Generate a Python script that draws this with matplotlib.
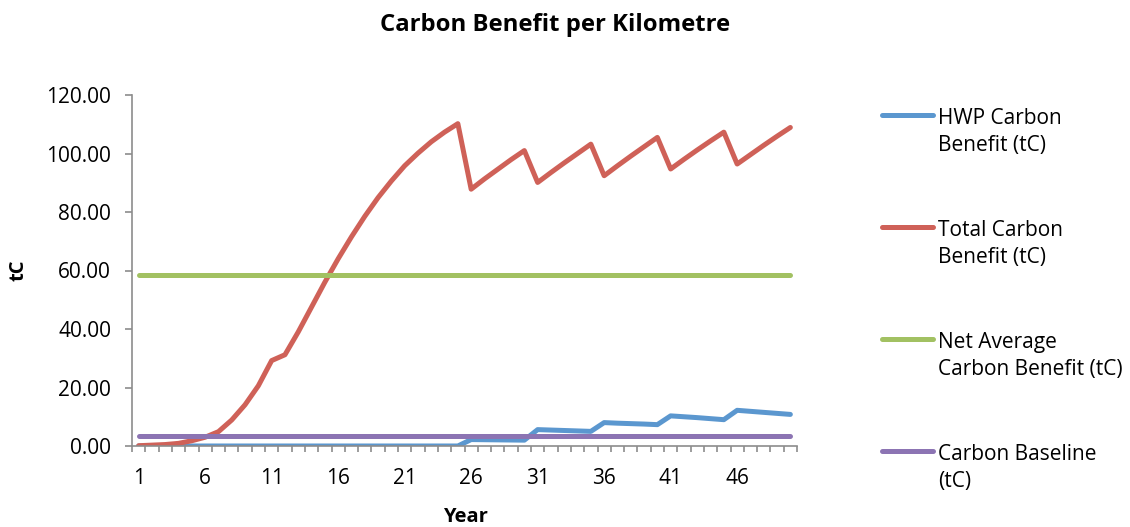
import matplotlib
matplotlib.use('Agg')
import matplotlib.pyplot as plt
from matplotlib.lines import Line2D
import numpy as np

plt.rcParams['font.family'] = ['Open Sans', 'DejaVu Sans']

# Data
years = list(range(1, 51))

hwp_benefit = [0.0] * 25 + [
    2.2, 2.15, 2.1, 2.05, 2.0,
    5.6, 5.45, 5.3, 5.15, 5.0,
    8.0, 7.8, 7.65, 7.5, 7.3,
    10.3, 10.0, 9.7, 9.35, 9.0,
    12.2, 11.85, 11.5, 11.15, 10.8,
]

total_benefit = [
    0.1, 0.3, 0.5, 0.9, 1.8, 3.0, 4.9, 8.9, 14.1, 20.6,
    29.2, 31.2, 39.0, 47.5, 56.0, 64.0, 71.5, 78.5, 84.9, 90.6,
    95.8, 100.1, 104.0, 107.3, 110.2,
    87.8, 91.3, 94.6, 97.9, 101.0,
    90.1, 93.5, 96.8, 100.0, 103.2,
    92.4, 95.8, 99.1, 102.3, 105.5,
    94.7, 98.0, 101.2, 104.3, 107.3,
    96.4, 99.6, 102.8, 105.9, 108.9,
]

net_average = [58.6] * 50
baseline = [3.3] * 50

series_names = ['HWP Carbon\nBenefit (tC)',
                'Total Carbon\nBenefit (tC)',
                'Net Average\nCarbon Benefit (tC)',
                'Carbon Baseline\n(tC)']
series_colors = ['#5B97CF', '#CF6158', '#A2C162', '#8C74B3']

y_ticks = [0, 20, 40, 60, 80, 100, 120]
x_label_years = list(range(1, 50, 5))

fig = plt.figure(figsize=(11.3, 5.27), dpi=100)
ax = fig.add_axes([132 / 1130, 1 - 446 / 527, 665 / 1130, 351 / 527])

for vals, col in zip([hwp_benefit, total_benefit, net_average, baseline],
                     series_colors):
    ax.plot(years, vals, color=col, linewidth=3.6,
            solid_capstyle='round', solid_joinstyle='round')

ax.set_xlim(0.5, 50.5)
ax.set_ylim(0, 120)

ax.set_yticks(y_ticks)
ax.set_yticklabels(['%.2f' % v for v in y_ticks])
ax.set_xticks(x_label_years)
ax.set_xticklabels([str(v) for v in x_label_years])
ax.set_xticks(np.arange(0.5, 51, 1), minor=True)

grey = '#8C8C8C'
for side in ['top', 'right']:
    ax.spines[side].set_visible(False)
for side in ['left', 'bottom']:
    ax.spines[side].set_color(grey)
    ax.spines[side].set_linewidth(1.2)

ax.tick_params(axis='y', direction='out', length=5, width=1.2, color=grey,
               pad=10, labelsize=15)
ax.tick_params(axis='x', which='major', length=0, pad=16, labelsize=15)
ax.tick_params(axis='x', which='minor', direction='out', length=4.5,
               width=1.2, color=grey)

fig.text(555 / 1130, 1 - 25 / 527, 'Carbon Benefit per Kilometre',
         ha='center', va='center', fontsize=17.2, fontweight='bold')
fig.text(18 / 1130, 1 - 270 / 527, 'tC', rotation=90, ha='center',
         va='center', fontsize=14.5, fontweight='bold')
fig.text(465 / 1130, 1 - 517 / 527, 'Year', ha='center', va='center',
         fontsize=14.5, fontweight='bold')

# Legend drawn by hand to keep the handle on the first text line
legend_y = [115, 227, 339, 451]
for name, col, ly in zip(series_names, series_colors, legend_y):
    fig.add_artist(Line2D([882 / 1130, 933 / 1130], [1 - ly / 527] * 2,
                          color=col, linewidth=3.6, solid_capstyle='round',
                          transform=fig.transFigure))
    fig.text(938 / 1130, 1 - (ly - 7) / 527, name, ha='left', va='top',
             fontsize=15, linespacing=1.37)

plt.savefig('out.png', dpi=100)
plt.close()
